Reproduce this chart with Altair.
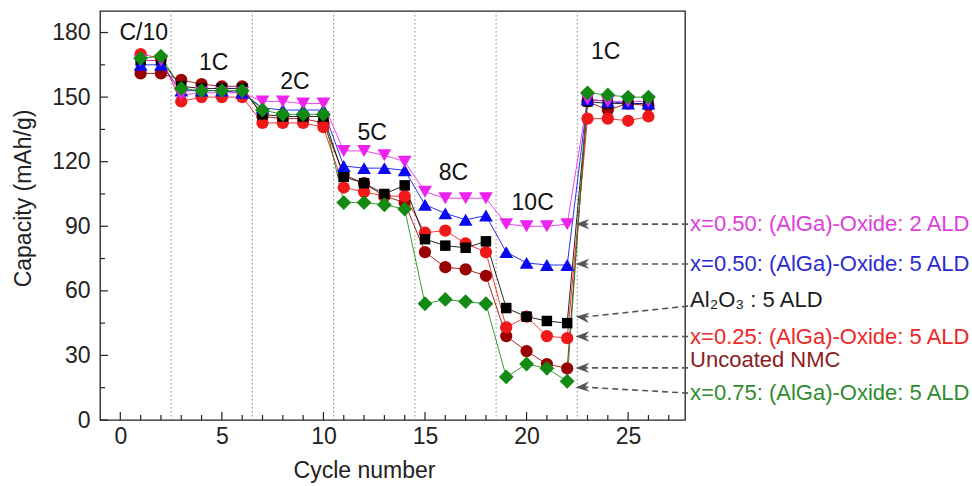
import altair as alt
import pandas as pd
import math

# ---------------- data ----------------
cycles = list(range(1, 27))
series_names = [
    "Uncoated NMC",
    "x=0.25: (AlGa)-Oxide: 5 ALD",
    "Al2O3 : 5 ALD",
    "x=0.50: (AlGa)-Oxide: 5 ALD",
    "x=0.50: (AlGa)-Oxide: 2 ALD",
    "x=0.75: (AlGa)-Oxide: 5 ALD",
]
uncoated = [161, 161, 158, 156, 155, 155, 141, 140, 140, 138, 114, 110, 104, 101,
            78, 71, 70, 67, 39, 32, 26, 24, 148, 144, 147, 146]
x025 = [170, 168, 148, 150, 150, 150, 138, 138, 138, 136, 108, 106, 104, 104,
        87, 88, 82, 78, 43, 48, 39, 38, 140, 140, 139, 141]
al2o3 = [167, 167, 155, 154, 154, 154, 142, 141, 141, 141, 113, 110, 105, 109,
         84, 81, 80, 83, 52, 48, 46, 45, 148, 147, 147, 147]
x050_5 = [165, 165, 153, 153, 153, 152, 145, 144, 144, 144, 118, 117, 117, 116,
          100, 96, 93, 95, 78, 73, 72, 72, 149, 148, 147, 147]
x050_2 = [167, 167, 151, 152, 152, 152, 148, 148, 147, 147, 125, 125, 123, 120,
          106, 103, 103, 103, 91, 90, 90, 91, 149, 148, 148, 148]
x075 = [168, 169, 154, 153, 153, 153, 144, 142, 142, 142, 101, 101, 100, 98,
        54, 56, 55, 54, 20, 26, 24, 18, 152, 151, 150, 150]
all_values = [uncoated, x025, al2o3, x050_5, x050_2, x075]

marker_colors = ["#990000", "#f01818", "#000000", "#0a0aee", "#ee22ee", "#138a13"]
marker_shapes = ["circle", "circle", "square", "triangle-up", "triangle-down", "diamond"]
marker_sizes = [150, 150, 110, 190, 190, 220]

rate_labels = ["C/10", "1C", "2C", "5C", "8C", "10C", "1C "]
rate_x = [1.15, 4.6, 8.6, 12.4, 16.4, 20.3, 23.9]
rate_y = [179.8, 165.7, 157.0, 133.2, 114.7, 100.7, 171.0]

dividers = [2.5, 6.5, 10.5, 14.5, 18.5, 22.5]

label_texts = [
    "x=0.50: (AlGa)-Oxide: 2 ALD",
    "x=0.50: (AlGa)-Oxide: 5 ALD",
    "Al\u2082O\u2083 : 5 ALD",
    "x=0.25: (AlGa)-Oxide: 5 ALD",
    "Uncoated NMC",
    "x=0.75: (AlGa)-Oxide: 5 ALD",
]
label_colors = ["#dd3ddd", "#2a2ad0", "#1a1a1a", "#ee2626", "#8e1b1b", "#2e8b2e"]
label_y = [91.0, 72.5, 55.7, 38.7, 27.9, 12.4]
arrow_start_y = [91.0, 72.5, 52.9, 38.8, 24.2, 12.5]
arrow_tip_y = [91.0, 72.5, 47.8, 38.8, 24.2, 15.3]
label_x = 28.05
arrow_start_x = 27.95
arrow_tip_x = 22.75

y_major = [0, 30, 60, 90, 120, 150, 180]
y_minor = [15, 45, 75, 105, 135, 165]
x_major = [0, 5, 10, 15, 20, 25]
x_minor = [v for v in range(0, 28) if v % 5 != 0]

# ---------------- tables ----------------
rows = []
for name, vals in zip(series_names, all_values):
    for c, v in zip(cycles, vals):
        rows.append({"series": name, "cycle": c, "cap": v})
df = pd.DataFrame(rows)

W, H = 585, 409
XD = [-1, 27.8]
YD = [0, 190]
xs = alt.Scale(domain=XD, nice=False, zero=False)
ys = alt.Scale(domain=YD, nice=False, zero=False)
FONT = "Liberation Sans"

color_scale = alt.Scale(domain=series_names, range=marker_colors)

lines = alt.Chart(df).mark_line(strokeWidth=1, opacity=0.85).encode(
    x=alt.X("cycle:Q", scale=xs,
            axis=alt.Axis(values=x_major, title="Cycle number", ticks=False, domain=False,
                          grid=False, labelFontSize=23, titleFontSize=23, labelPadding=5,
                          labelFont=FONT, titleFont=FONT, titleX=264, titleY=50,
                          titleAlign="center", titleBaseline="middle",
                          labelColor="#222", titleColor="#222", titleFontWeight="normal")),
    y=alt.Y("cap:Q", scale=ys,
            axis=alt.Axis(values=y_major, title="Capacity (mAh/g)", ticks=False, domain=False,
                          grid=False, labelFontSize=23, titleFontSize=23, labelPadding=10,
                          labelFont=FONT, titleFont=FONT, titleX=-77, titleY=187,
                          titleAlign="center", titleBaseline="middle", titleAngle=270,
                          labelColor="#222", titleColor="#222", titleFontWeight="normal")),
    color=alt.Color("series:N", scale=color_scale, legend=None),
    detail="series:N",
)

point_layers = []
for name, col, shp, sz in zip(series_names, marker_colors, marker_shapes, marker_sizes):
    point_layers.append(
        alt.Chart(df).transform_filter(alt.datum.series == name).mark_point(
            filled=True, opacity=1, shape=shp, size=sz, color=col).encode(
            x=alt.X("cycle:Q", scale=xs),
            y=alt.Y("cap:Q", scale=ys),
        )
    )

div_df = pd.DataFrame({"x": dividers})
div_rules = alt.Chart(div_df).mark_rule(color="#888", strokeDash=[1.5, 2.5], strokeWidth=1).encode(
    x=alt.X("x:Q", scale=xs)
)

rate_df = pd.DataFrame({"x": rate_x, "y": rate_y, "t": rate_labels})
rate_text = alt.Chart(rate_df).mark_text(fontSize=23, font=FONT, color="#111",
                                         align="center", baseline="middle").encode(
    x=alt.X("x:Q", scale=xs), y=alt.Y("y:Q", scale=ys), text="t:N"
)

# inward ticks
ymaj = alt.Chart(pd.DataFrame({"v": y_major})).mark_rule(color="#222", strokeWidth=1.2).encode(
    y=alt.Y("v:Q", scale=ys), x=alt.value(0), x2=alt.value(8))
ymin = alt.Chart(pd.DataFrame({"v": y_minor})).mark_rule(color="#222", strokeWidth=1.2).encode(
    y=alt.Y("v:Q", scale=ys), x=alt.value(0), x2=alt.value(5))
xmaj = alt.Chart(pd.DataFrame({"v": x_major})).mark_rule(color="#222", strokeWidth=1.2).encode(
    x=alt.X("v:Q", scale=xs), y=alt.value(H), y2=alt.value(H - 8))
xmin = alt.Chart(pd.DataFrame({"v": x_minor})).mark_rule(color="#222", strokeWidth=1.2).encode(
    x=alt.X("v:Q", scale=xs), y=alt.value(H), y2=alt.value(H - 5))

# annotation arrows + labels
px_per_x = W / (XD[1] - XD[0])
px_per_y = H / (YD[1] - YD[0])
angles = []
for ys0, yt in zip(arrow_start_y, arrow_tip_y):
    dx = (arrow_start_x - arrow_tip_x) * px_per_x
    dy = (ys0 - yt) * px_per_y
    a = math.degrees(math.atan2(dy, dx))
    angles.append(a % 360)
ann_df = pd.DataFrame({
    "t": label_texts, "c": label_colors, "ly": label_y,
    "x0": [arrow_start_x] * 6, "y0": arrow_start_y,
    "x1": [arrow_tip_x] * 6, "y1": arrow_tip_y,
    "lx": [label_x] * 6, "ang": angles,
})
arrow_lines = alt.Chart(ann_df).mark_rule(color="#555", strokeDash=[6, 4], strokeWidth=1.6).encode(
    x=alt.X("x0:Q", scale=xs), y=alt.Y("y0:Q", scale=ys),
    x2="x1:Q", y2="y1:Q")
arrow_heads = alt.Chart(ann_df).mark_point(
    shape="M -1 0 L 1 -0.75 L 0.35 0 L 1 0.75 Z", filled=True, size=190,
    color="#555", opacity=1).encode(
    x=alt.X("x1:Q", scale=xs), y=alt.Y("y1:Q", scale=ys),
    angle=alt.Angle("ang:Q", scale=None))
labels = alt.Chart(ann_df).mark_text(fontSize=22, font=FONT, align="left",
                                     baseline="middle").encode(
    x=alt.X("lx:Q", scale=xs), y=alt.Y("ly:Q", scale=ys), text="t:N",
    color=alt.Color("c:N", scale=None))

chart = alt.layer(
    div_rules, ymaj, ymin, xmaj, xmin, lines, *point_layers, rate_text,
    arrow_lines, arrow_heads, labels
).properties(
    width=W, height=H,
    autosize=alt.AutoSizeParams(type="none"),
    padding={"left": 100, "top": 11, "right": 287, "bottom": 66},
    background="white",
).configure_view(stroke="#222", strokeWidth=1.3)

chart.save("out.html", embed_options={"renderer": "svg", "actions": False})
